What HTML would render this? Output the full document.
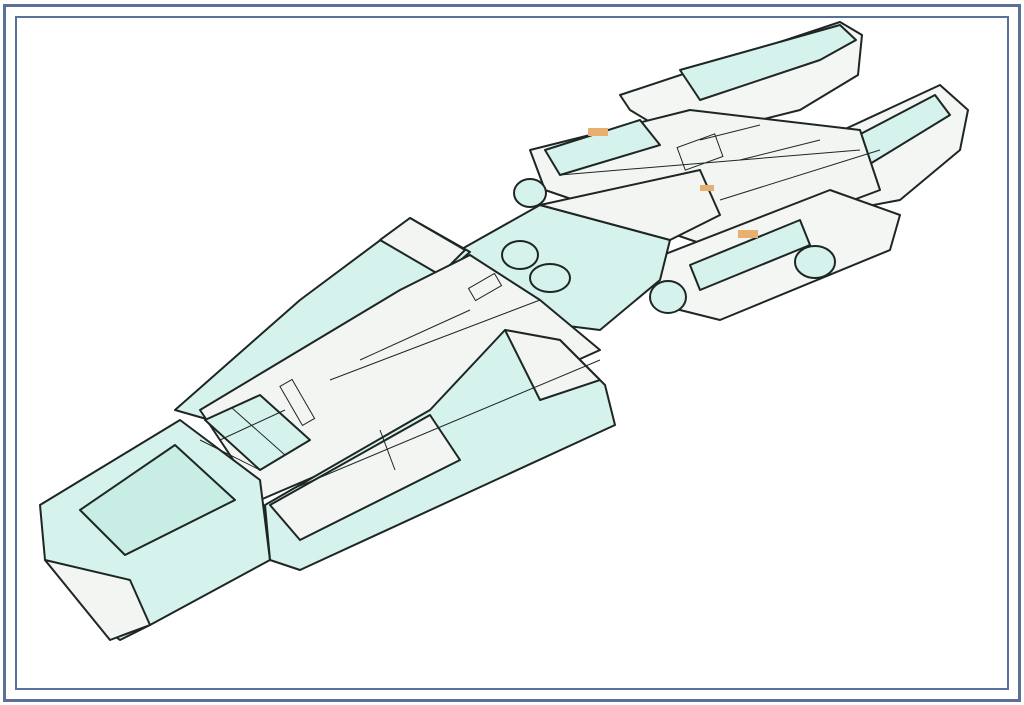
<!DOCTYPE html>
<html><head><meta charset="utf-8"><style>
html,body{margin:0;padding:0;background:#fff;width:1024px;height:705px;overflow:hidden}
</style></head><body>
<svg width="1024" height="705" viewBox="0 0 1024 705" xmlns="http://www.w3.org/2000/svg">
<rect x="4.5" y="5.5" width="1015" height="695" fill="#fff" stroke="#5b7099" stroke-width="3"/>
<rect x="16" y="17" width="992" height="672" fill="none" stroke="#5b7099" stroke-width="2"/>
<g stroke="#1e2624" stroke-width="2" stroke-linejoin="round">
<polygon points="620,95 840,22 862,35 858,75 800,110 680,140 630,110" fill="#f3f6f3"/>
<polygon points="680,70 840,25 856,40 820,60 700,100" fill="#d6f2ec"/>
<polygon points="800,150 940,85 968,110 960,150 900,200 820,215" fill="#f3f6f3"/>
<polygon points="830,150 935,95 950,115 860,170" fill="#d6f2ec"/>
<polygon points="530,150 690,110 860,130 880,190 720,250 545,190" fill="#f2f5f2"/>
<polygon points="545,150 640,120 660,145 560,175" fill="#d6f2ec"/>
<polygon points="650,260 830,190 900,215 890,250 720,320 660,305" fill="#f3f6f3"/>
<polygon points="690,265 800,220 810,245 700,290" fill="#d6f2ec"/>
<ellipse cx="530" cy="193" rx="16" ry="14" fill="#d6f2ec"/>
<ellipse cx="668" cy="297" rx="18" ry="16" fill="#d6f2ec"/>
<ellipse cx="815" cy="262" rx="20" ry="16" fill="#d6f2ec"/>
<polygon points="460,250 540,205 670,240 660,280 600,330 520,320" fill="#d6f2ec"/>
<polygon points="540,205 700,170 720,215 670,240" fill="#f2f5f2"/>
<ellipse cx="520" cy="255" rx="18" ry="14" fill="#d6f2ec"/>
<ellipse cx="550" cy="278" rx="20" ry="14" fill="#d6f2ec"/>
<polygon points="175,410 300,300 410,218 470,252 300,400 210,420" fill="#d6f2ec"/>
<polygon points="380,240 410,218 465,250 440,275" fill="#f2f5f2"/>
<polygon points="200,410 400,290 470,255 540,300 600,350 400,440 260,500" fill="#f2f5f2"/>
<polygon points="205,420 260,395 310,440 260,470" fill="#d6f2ec"/>
<polygon points="40,505 180,420 260,480 270,560 150,625 120,640 100,625 45,560" fill="#d6f2ec"/>
<polygon points="80,510 175,445 235,500 125,555" fill="#c8ede5"/>
<polygon points="45,560 130,580 150,625 110,640" fill="#f2f5f2"/>
<polygon points="265,505 430,410 505,330 560,340 605,385 615,425 300,570 270,560" fill="#d6f2ec"/>
<polygon points="270,505 430,415 460,460 300,540" fill="#f2f5f2"/>
<polygon points="505,330 560,340 600,380 540,400" fill="#f2f5f2"/>
</g>
<g stroke="#1e2624" stroke-width="1" fill="none">
<line x1="200" y1="440" x2="260" y2="470"/>
<line x1="330" y1="380" x2="540" y2="300"/>
<line x1="290" y1="490" x2="600" y2="360"/>
<line x1="560" y1="175" x2="860" y2="150"/>
<line x1="720" y1="200" x2="880" y2="150"/>
<line x1="232" y1="408" x2="285" y2="455"/>
<line x1="220" y1="440" x2="285" y2="410"/>
<line x1="700" y1="140" x2="760" y2="125"/>
<line x1="740" y1="160" x2="820" y2="140"/>
<line x1="360" y1="360" x2="470" y2="310"/>
<line x1="380" y1="430" x2="395" y2="470"/>
<rect x="290" y="380" width="14" height="45" transform="rotate(-30 297 402)"/>
<rect x="470" y="280" width="30" height="14" transform="rotate(-30 485 287)"/>
<rect x="680" y="140" width="40" height="24" transform="rotate(-20 700 152)"/>
</g>
<g fill="#e8b070">
<rect x="588" y="128" width="20" height="8"/>
<rect x="738" y="230" width="20" height="8"/>
<rect x="700" y="185" width="14" height="6"/>
</g>
</svg>
</body></html>
